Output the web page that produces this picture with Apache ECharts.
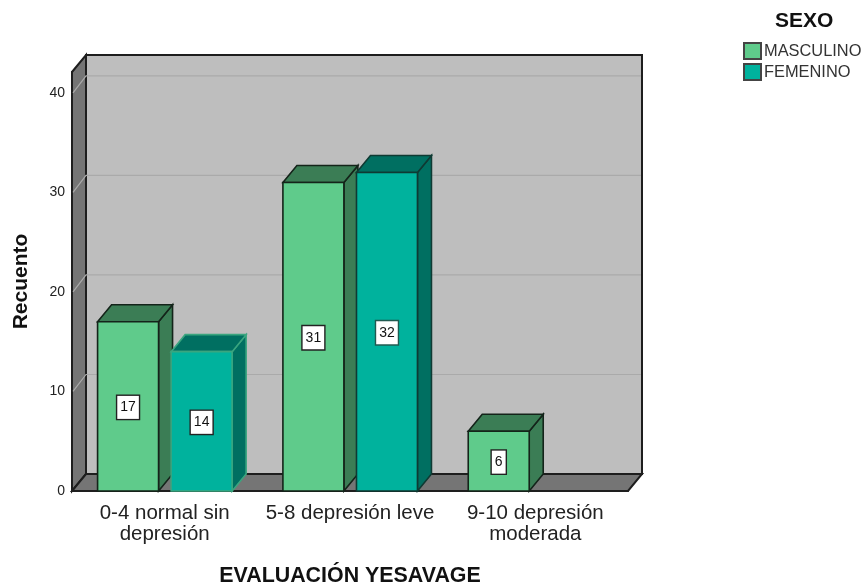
<!DOCTYPE html>
<html><head><meta charset="utf-8">
<style>html,body{margin:0;padding:0;background:#fff}#c{width:864px;height:587px}</style>
<script src="https://cdn.jsdelivr.net/npm/echarts@6/dist/echarts.min.js"></script>
</head><body><div id="c"></div>
<script>
const categories = ['0-4 normal sin\ndepresión', '5-8 depresión leve', '9-10 depresión\nmoderada'];
const masculino = [17, 31, 6];
const femenino = [14, 32, null];
const yTicks = [10, 20, 30, 40];
const yMax = 42.1;

const DX = 14, DY = -17;
const FONT = '"Liberation Sans", Arial, sans-serif';
const EDGE = '#1e1e1e';

function poly(points, fill, stroke, w) {
  return { type: 'polygon', shape: { points: points },
    style: { fill: fill, stroke: stroke || null, lineWidth: w || 0, lineJoin: 'miter' } };
}
function wall(params, api) {
  const s = params.coordSys;
  const l = s.x, r = s.x + s.width, t = s.y, b = s.y + s.height;
  const kids = [
    poly([[l + DX, t + DY], [r + DX, t + DY], [r + DX, b + DY], [l + DX, b + DY]], '#bebebe', EDGE, 2),
    poly([[l, t], [l + DX, t + DY], [l + DX, b + DY], [l, b]], '#757575', EDGE, 2),
    poly([[l, b], [l + DX, b + DY], [r + DX, b + DY], [r, b]], '#757575', EDGE, 2)
  ];
  yTicks.forEach(function (v) {
    const y = api.coord([0, v])[1];
    kids.push({ type: 'polyline', shape: { points: [[l + 1, y], [l + DX, y + DY], [r + DX - 1, y + DY]] },
      style: { fill: null, stroke: '#aaaaaa', lineWidth: 1.2 } });
  });
  return { type: 'group', children: kids };
}
function barItem(side, face, dark, strokeOf, labelBorderOf) {
  return function (params, api) {
    const v = api.value(1);
    if (v == null || isNaN(v)) return null;
    const p = api.coord([api.value(0), v]);
    const z = api.coord([api.value(0), 0]);
    const band = api.size([1, 0])[0];
    const x0 = p[0] + band * (side < 0 ? -0.362 : 0.035);
    const x1 = x0 + band * 0.329;
    const yt = p[1], yb = z[1];
    const stroke = strokeOf(params.dataIndex);
    return { type: 'group', children: [
      poly([[x1, yt], [x1 + DX, yt + DY], [x1 + DX, yb + DY], [x1, yb]], dark, stroke, 1.6),
      poly([[x0, yt], [x0 + DX, yt + DY], [x1 + DX, yt + DY], [x1, yt]], dark, stroke, 1.6),
      poly([[x0, yt], [x1, yt], [x1, yb], [x0, yb]], face, stroke, 1.6),
      { type: 'text', x: (x0 + x1) / 2, y: (yt + yb) / 2 + 1,
        style: { text: String(v), fill: '#111', font: '14px ' + FONT, align: 'center', verticalAlign: 'middle',
          backgroundColor: '#fff', borderColor: labelBorderOf(params.dataIndex), borderWidth: 1.4, padding: [5, 3, 4, 3] } }
    ] };
  };
}
const toData = function (arr) { return arr.map(function (v, i) { return [i, v]; }); };

const chart = echarts.init(document.getElementById('c'), null, { renderer: 'canvas' });
chart.setOption({
  animation: false,
  backgroundColor: '#fff',
  title: { text: 'SEXO', left: 770, top: 6, padding: 5,
    textStyle: { fontFamily: FONT, fontSize: 21, fontWeight: 'bold', color: '#111' } },
  legend: { left: 743, top: 42, padding: 0, orient: 'vertical', itemWidth: 17, itemHeight: 16, itemGap: 3,
    data: ['MASCULINO', 'FEMENINO'], selectedMode: false, icon: 'rect',
    textStyle: { fontFamily: FONT, fontSize: 16.4, color: '#333', padding: [2, 0, 0, -2] } },
  grid: { left: 72, right: 236, top: 72, bottom: 96, outerBoundsMode: 'none', containLabel: false },
  xAxis: { type: 'category', data: categories, boundaryGap: true,
    name: 'EVALUACIÓN YESAVAGE', nameLocation: 'middle', nameGap: 75,
    nameTextStyle: { fontFamily: FONT, fontSize: 21.4, fontWeight: 'bold', color: '#111' },
    axisTick: { show: false },
    axisLine: { show: true, lineStyle: { color: EDGE, width: 2 } },
    axisLabel: { fontFamily: FONT, fontSize: 20.5, color: '#222', margin: 12, lineHeight: 21, interval: 0 },
    splitLine: { show: false } },
  yAxis: { type: 'value', min: 0, max: yMax, interval: 10,
    name: 'Recuento', nameLocation: 'middle', nameGap: 40, nameRotate: 90,
    nameTextStyle: { fontFamily: FONT, fontSize: 21, fontWeight: 'bold', color: '#111' },
    axisTick: { show: false },
    axisLine: { show: true, lineStyle: { color: EDGE, width: 2 } },
    axisLabel: { fontFamily: FONT, fontSize: 14, color: '#222', margin: 7, padding: [4, 0, 0, 0],
      showMaxLabel: false },
    splitLine: { show: false } },
  series: [
    { name: 'walls', type: 'custom', z: 1, clip: false, data: [[0, 0]], renderItem: wall, silent: true },
    { name: 'MASCULINO', type: 'custom', z: 2, clip: false, data: toData(masculino),
      encode: { x: 0, y: 1 }, itemStyle: { color: '#5fcb8b', borderColor: '#444', borderWidth: 1.5 },
      renderItem: barItem(-1, '#5fcb8b', '#3b7d55', function () { return '#14241a'; }, function () { return '#222'; }) },
    { name: 'FEMENINO', type: 'custom', z: 3, clip: false, data: toData(femenino),
      encode: { x: 0, y: 1 }, itemStyle: { color: '#00b29d', borderColor: '#444', borderWidth: 1.5 },
      renderItem: barItem(1, '#00b29d', '#006f61', function (i) { return i === 0 ? '#3aa57f' : '#0f3a33'; },
        function (i) { return i === 0 ? '#222' : '#1f5a50'; }) }
  ]
});
</script></body></html>
